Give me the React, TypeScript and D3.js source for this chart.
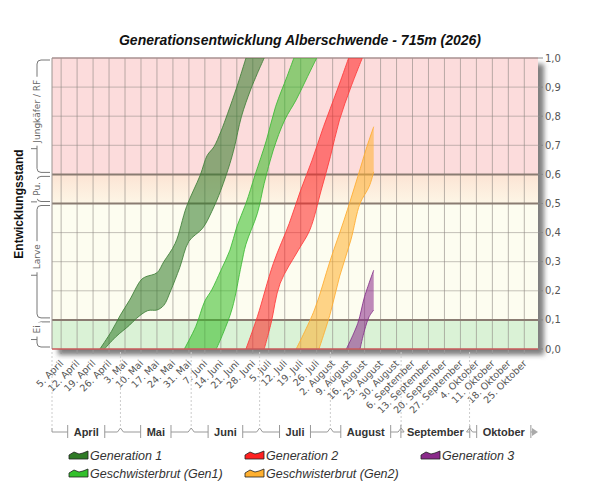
import React, { useRef, useEffect } from "react";
import * as d3 from "d3";

type Pt = [string, number];

// development stage (0..1) of the earliest (hi) and latest (lo) individuals per date
const gen1Hi: Pt[] = [
  ["2026-04-22", 0], ["2026-04-27", 0.06], ["2026-05-01", 0.117], ["2026-05-05", 0.168],
  ["2026-05-10", 0.237], ["2026-05-12", 0.248], ["2026-05-17", 0.262], ["2026-05-20", 0.3],
  ["2026-05-25", 0.363], ["2026-05-30", 0.49], ["2026-06-05", 0.598], ["2026-06-08", 0.665],
  ["2026-06-11", 0.695], ["2026-06-14", 0.747], ["2026-06-17", 0.81], ["2026-06-21", 0.9],
  ["2026-06-25", 1.0],
];
const gen1Lo: Pt[] = [
  ["2026-04-24", 0], ["2026-04-29", 0.042], ["2026-05-05", 0.082], ["2026-05-08", 0.105],
  ["2026-05-13", 0.132], ["2026-05-17", 0.134], ["2026-05-20", 0.15], ["2026-05-23", 0.2],
  ["2026-05-27", 0.28], ["2026-05-31", 0.37], ["2026-06-06", 0.415], ["2026-06-10", 0.472],
  ["2026-06-14", 0.546], ["2026-06-18", 0.638], ["2026-06-20", 0.695], ["2026-06-23", 0.798],
  ["2026-06-27", 0.89], ["2026-06-30", 0.947], ["2026-07-03", 1.0],
];
const sib1Hi: Pt[] = [
  ["2026-05-29", 0], ["2026-06-03", 0.077], ["2026-06-07", 0.165], ["2026-06-10", 0.203],
  ["2026-06-14", 0.27], ["2026-06-18", 0.34], ["2026-06-21", 0.42], ["2026-06-25", 0.5],
  ["2026-06-29", 0.598], ["2026-07-04", 0.718], ["2026-07-08", 0.833], ["2026-07-13", 0.936],
  ["2026-07-16", 1.0],
];
const sib1Lo: Pt[] = [
  ["2026-06-12", 0], ["2026-06-15", 0.054], ["2026-06-19", 0.14], ["2026-06-23", 0.29],
  ["2026-06-25", 0.36], ["2026-06-30", 0.466], ["2026-07-03", 0.569], ["2026-07-07", 0.684],
  ["2026-07-12", 0.787], ["2026-07-17", 0.856], ["2026-07-22", 0.936], ["2026-07-26", 1.0],
];
const gen2Hi: Pt[] = [
  ["2026-06-25", 0], ["2026-06-30", 0.111], ["2026-07-07", 0.294], ["2026-07-14", 0.432],
  ["2026-07-19", 0.546], ["2026-07-24", 0.649], ["2026-07-29", 0.764], ["2026-08-04", 0.89],
  ["2026-08-09", 1.0],
];
const gen2Lo: Pt[] = [
  ["2026-07-03", 0], ["2026-07-06", 0.088], ["2026-07-10", 0.226], ["2026-07-18", 0.34],
  ["2026-07-23", 0.409], ["2026-07-28", 0.546], ["2026-08-01", 0.661], ["2026-08-05", 0.787],
  ["2026-08-10", 0.9], ["2026-08-15", 1.0],
];
const sib2Hi: Pt[] = [
  ["2026-07-17", 0], ["2026-07-25", 0.134], ["2026-08-01", 0.306], ["2026-08-07", 0.443],
  ["2026-08-13", 0.592], ["2026-08-17", 0.695], ["2026-08-20", 0.764],
];
const sib2Lo: Pt[] = [
  ["2026-07-27", 0], ["2026-08-01", 0.123], ["2026-08-05", 0.248], ["2026-08-10", 0.375],
  ["2026-08-14", 0.5], ["2026-08-18", 0.558], ["2026-08-20", 0.609],
];
const gen3Hi: Pt[] = [
  ["2026-08-08", 0], ["2026-08-13", 0.088], ["2026-08-16", 0.18], ["2026-08-20", 0.271],
];
const gen3Lo: Pt[] = [
  ["2026-08-14", 0], ["2026-08-16", 0.065], ["2026-08-18", 0.111], ["2026-08-20", 0.134],
];

const seriesNames = [
  "Generation 1",
  "Geschwisterbrut (Gen1)",
  "Generation 2",
  "Geschwisterbrut (Gen2)",
  "Generation 3",
];
const seriesHi = [gen1Hi, sib1Hi, gen2Hi, sib2Hi, gen3Hi];
const seriesLo = [gen1Lo, sib1Lo, gen2Lo, sib2Lo, gen3Lo];

const stageLabels = ["Ei", "Larve", "Pu.", "Jungkäfer / RF"];
const stageFrom = [0, 0.1, 0.5, 0.6];
const stageTo = [0.1, 0.5, 0.6, 1.0];

const monthNames = [
  "Januar", "Februar", "März", "April", "Mai", "Juni",
  "Juli", "August", "September", "Oktober", "November", "Dezember",
];
const yTicks = [0, 0.1, 0.2, 0.3, 0.4, 0.5, 0.6, 0.7, 0.8, 0.9, 1.0];
const startDate = "2026-04-01";
const endDate = "2026-10-31";

const title = "Generationsentwicklung Alberschwende - 715m (2026)";

// styles
const fill = ["#2f7a26", "#33bb22", "#ff2020", "#ffb030", "#8a2a8a"];
const stroke = ["#3f7f38", "#3cb835", "#ff3a3a", "#ffab2e", "#84308a"];
const iconFill = ["#2f7a26", "#33c02c", "#ff2020", "#ffb030", "#8a2a8a"];
const zoneFill = ["#daf2d6", "#fdfdf0", "url(#puGrad)", "#fcdcdc"];
const SANS = "'Liberation Sans', Arial, sans-serif";
const AXIS = "'DejaVu Sans', sans-serif";

const App: React.FC = () => {
  const ref = useRef<SVGSVGElement | null>(null);

  useEffect(() => {
    const svg = d3.select(ref.current);
    svg.selectAll("*").remove();

    const L = 52, R = 538, T = 58, B = 349;
    const parse = d3.timeParse("%Y-%m-%d");
    const start = parse(startDate) as Date;
    const end = parse(endDate) as Date;

    const x = d3.scaleTime().domain([start, end]).range([L, R]);
    const y = d3.scaleLinear().domain([0, 1]).range([B, T]);

    const defs = svg.append("defs");
    const f = defs
      .append("filter")
      .attr("id", "shadow")
      .attr("x", "-5%")
      .attr("y", "-5%")
      .attr("width", "115%")
      .attr("height", "120%");
    f.append("feDropShadow")
      .attr("dx", 6)
      .attr("dy", 6)
      .attr("stdDeviation", 2.5)
      .attr("flood-color", "#555")
      .attr("flood-opacity", 0.75);
    defs
      .append("clipPath")
      .attr("id", "plot")
      .append("rect")
      .attr("x", L)
      .attr("y", T)
      .attr("width", R - L)
      .attr("height", B - T);
    const pg = defs
      .append("linearGradient")
      .attr("id", "puGrad")
      .attr("x1", 0)
      .attr("y1", 0)
      .attr("x2", 0)
      .attr("y2", 1);
    pg.append("stop").attr("offset", "0%").attr("stop-color", "#fce4d4");
    pg.append("stop").attr("offset", "100%").attr("stop-color", "#fdf6e6");

    // plot shadow + stage zones
    svg
      .append("rect")
      .attr("x", L)
      .attr("y", T)
      .attr("width", R - L)
      .attr("height", B - T)
      .attr("fill", "#fff")
      .attr("filter", "url(#shadow)");

    stageLabels.forEach((_, i) => {
      svg
        .append("rect")
        .attr("x", L)
        .attr("width", R - L)
        .attr("y", y(stageTo[i]))
        .attr("height", y(stageFrom[i]) - y(stageTo[i]))
        .attr("fill", zoneFill[i]);
    });

    // grid
    const weeks = d3.timeSunday.range(start, d3.timeDay.offset(end, 1));
    svg
      .append("g")
      .selectAll("line")
      .data(weeks)
      .join("line")
      .attr("x1", (d) => x(d))
      .attr("x2", (d) => x(d))
      .attr("y1", T)
      .attr("y2", B)
      .attr("stroke", "#8c8580")
      .attr("stroke-opacity", 0.6);

    svg
      .append("g")
      .selectAll("line")
      .data(yTicks.filter((v) => v > 0 && v < 1 && !stageFrom.includes(v)))
      .join("line")
      .attr("x1", L)
      .attr("x2", R)
      .attr("y1", (d) => y(d))
      .attr("y2", (d) => y(d))
      .attr("stroke", "#8c8580")
      .attr("stroke-opacity", 0.5);

    svg
      .append("g")
      .selectAll("line")
      .data(stageFrom.filter((v) => v > 0))
      .join("line")
      .attr("x1", L)
      .attr("x2", R)
      .attr("y1", (d) => y(d))
      .attr("y2", (d) => y(d))
      .attr("stroke", "#8a7c72")
      .attr("stroke-width", 2);

    svg
      .append("line")
      .attr("x1", L)
      .attr("x2", R)
      .attr("y1", T)
      .attr("y2", T)
      .attr("stroke", "#a89090")
      .attr("stroke-width", 1.5);
    svg
      .append("line")
      .attr("x1", L)
      .attr("x2", L)
      .attr("y1", T)
      .attr("y2", B)
      .attr("stroke", "#9a9490");

    // bands
    const edge = d3
      .line<[Date, number]>()
      .x((d) => x(d[0]))
      .y((d) => y(d[1]))
      .curve(d3.curveCatmullRom.alpha(0.5));

    const bands = svg.append("g").attr("clip-path", "url(#plot)");
    seriesNames.forEach((_, i) => {
      const hi = seriesHi[i].map((p) => [parse(p[0]) as Date, p[1]] as [Date, number]);
      const lo = seriesLo[i].map((p) => [parse(p[0]) as Date, p[1]] as [Date, number]);
      const hiPath = edge(hi) as string;
      const loRev = (edge(lo.slice().reverse()) as string).replace(/^M/, "L");
      bands
        .append("path")
        .attr("d", hiPath + loRev + "Z")
        .attr("fill", fill[i])
        .attr("fill-opacity", 0.55);
      [hi, lo].forEach((e) =>
        bands
          .append("path")
          .attr("d", edge(e) as string)
          .attr("fill", "none")
          .attr("stroke", stroke[i])
          .attr("stroke-width", 1)
          .attr("stroke-opacity", 0.85)
      );
    });

    // bottom line
    svg
      .append("line")
      .attr("x1", L)
      .attr("x2", R)
      .attr("y1", B)
      .attr("y2", B)
      .attr("stroke", "#c85a5a")
      .attr("stroke-width", 1.5);

    // x ticks
    svg
      .append("g")
      .selectAll("line")
      .data(weeks)
      .join("line")
      .attr("x1", (d) => x(d))
      .attr("x2", (d) => x(d))
      .attr("y1", B + 1)
      .attr("y2", B + 5)
      .attr("stroke", "#999");

    svg
      .append("g")
      .selectAll("text")
      .data(weeks)
      .join("text")
      .attr("transform", (d) => `translate(${x(d) + 3},${B + 15}) rotate(-45)`)
      .attr("text-anchor", "end")
      .style("font-family", AXIS)
      .style("font-size", "9.5px")
      .attr("fill", "#555")
      .text((d) => `${d.getDate()}. ${monthNames[d.getMonth()]}`);

    // month row
    const months = d3.timeMonth.range(start, end);
    const mg = svg.append("g").attr("stroke", "#999").attr("fill", "none");
    const yLine = 432;
    months.forEach((m, i) => {
      const x0 = x(m);
      const x1 = i < months.length - 1 ? x(months[i + 1]) : R;
      mg.append("line")
        .attr("x1", x0)
        .attr("x2", x0)
        .attr("y1", B + 3)
        .attr("y2", yLine - 4)
        .attr("stroke", "#ccc")
        .attr("stroke-dasharray", "2,2");
      const label = svg
        .append("text")
        .attr("x", (x0 + x1) / 2)
        .attr("y", 436)
        .attr("text-anchor", "middle")
        .style("font-family", SANS)
        .style("font-size", "11px")
        .style("font-weight", "bold")
        .attr("fill", "#333")
        .text(monthNames[m.getMonth()]);
      const w = (label.node() as SVGTextElement).getComputedTextLength();
      const lx0 = (x0 + x1) / 2 - w / 2 - 6;
      const lx1 = (x0 + x1) / 2 + w / 2 + 6;
      [lx0, lx1].forEach((bx) =>
        mg.append("line").attr("x1", bx).attr("x2", bx).attr("y1", 425).attr("y2", 438)
      );
      if (i === 0) {
        mg.append("path").attr("d", `M${x0},${yLine - 4}V${yLine}H${lx0}`);
      } else {
        mg.append("path").attr("d", `M${x0},${yLine - 4}L${x0 + 3},${yLine}H${lx0}`);
      }
      if (i < months.length - 1) {
        mg.append("path").attr("d", `M${lx1},${yLine}H${x1 - 3}L${x1},${yLine - 4}`);
      } else {
        mg.append("path").attr("d", `M${lx1},${yLine}H${R - 6}`);
        svg
          .append("path")
          .attr("d", `M${R - 6},${yLine - 4}L${R},${yLine}L${R - 6},${yLine + 4}Z`)
          .attr("fill", "#aaa");
      }
    });

    // right y axis
    svg
      .append("g")
      .selectAll("line")
      .data(yTicks)
      .join("line")
      .attr("x1", R)
      .attr("x2", R + 5)
      .attr("y1", (d) => y(d))
      .attr("y2", (d) => y(d))
      .attr("stroke", "#888");
    svg
      .append("g")
      .selectAll("text")
      .data(yTicks)
      .join("text")
      .attr("x", R + 7)
      .attr("y", (d) => y(d) + 3.5)
      .style("font-family", AXIS)
      .style("font-size", "10px")
      .attr("fill", "#555")
      .text((d) => d3.format(".1f")(d).replace(".", ","));

    // stage braces on the left
    stageLabels.forEach((s, i) => {
      const g = svg.append("g");
      const yt = y(stageTo[i]) + 2;
      const yb = y(stageFrom[i]) - 2;
      const bx = 37;
      g.append("path")
        .attr(
          "d",
          `M50,${yt}H${bx + 4}Q${bx},${yt} ${bx},${yt + 4}V${yb - 4}Q${bx},${yb} ${bx + 4},${yb}H50`
        )
        .attr("fill", "none")
        .attr("stroke", "#777");
      const cy = (yt + yb) / 2 - (i === 2 ? 0 : 5);
      const bgRect = g.append("rect");
      const t = g
        .append("text")
        .attr("transform", `translate(${bx - 0.5},${cy}) rotate(-90)`)
        .attr("text-anchor", "middle")
        .attr("dy", "0.35em")
        .style("font-family", AXIS)
        .style("font-size", "9px")
        .attr("fill", "#666")
        .text(s);
      const len = (t.node() as SVGTextElement).getComputedTextLength();
      bgRect
        .attr("x", bx - 6)
        .attr("y", cy - len / 2 - 3)
        .attr("width", 11)
        .attr("height", len + 6)
        .attr("fill", "#fff");
      g.append("line")
        .attr("x1", bx - 6)
        .attr("x2", bx)
        .attr("y1", cy + len / 2 + 6)
        .attr("y2", cy + len / 2 + 6)
        .attr("stroke", "#777");
    });

    svg
      .append("text")
      .attr("transform", "translate(23,204) rotate(-90)")
      .attr("text-anchor", "middle")
      .style("font-family", SANS)
      .style("font-size", "12px")
      .style("font-weight", "bold")
      .attr("fill", "#111")
      .text("Entwicklungsstand");

    // title
    svg
      .append("text")
      .attr("x", 300)
      .attr("y", 45)
      .attr("text-anchor", "middle")
      .style("font-family", SANS)
      .style("font-size", "14px")
      .style("font-weight", "bold")
      .style("font-style", "italic")
      .attr("fill", "#111")
      .text(title);

    // legend
    const colX = [69, 245, 421];
    const rowY = [455, 473];
    const slot = [[0, 0], [0, 1], [1, 0], [1, 1], [2, 0]];
    seriesNames.forEach((name, i) => {
      const gx = colX[slot[i][0]];
      const gy = rowY[slot[i][1]];
      const g = svg.append("g").attr("transform", `translate(${gx},${gy - 4})`);
      g.append("path")
        .attr("d", "M0,8L0,4L5,1L10,3L14,2L19,0L19,8Z")
        .attr("fill", iconFill[i])
        .attr("stroke", "#222")
        .attr("stroke-width", 0.8);
      g.append("text")
        .attr("x", 21)
        .attr("y", 8.5)
        .style("font-family", SANS)
        .style("font-size", "12.5px")
        .style("font-style", "italic")
        .attr("fill", "#333")
        .text(name);
    });
  }, []);

  return (
    <svg
      ref={ref}
      width={600}
      height={500}
      style={{ position: "absolute", left: 0, top: 0, background: "#fff" }}
    />
  );
};

export default App;
